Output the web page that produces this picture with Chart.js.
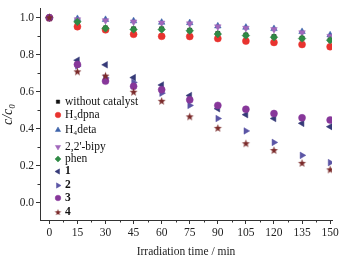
<!DOCTYPE html>
<html><head><meta charset="utf-8">
<script src="https://cdn.jsdelivr.net/npm/chart.js@4.4.1/dist/chart.umd.min.js"></script>
<style>html,body{margin:0;padding:0;background:#fff}#wrap{width:348px;height:259px}</style>
</head><body><div id="wrap"><canvas id="c"></canvas></div>
<script>
const times = [0,15,30,45,60,75,90,105,120,135,150];
const xTicks = [0,15,30,45,60,75,90,105,120,135,150];
const yTicks = [0.0,0.2,0.4,0.6,0.8,1.0];
const withoutCatalyst = [1,0.975,0.945,0.94,0.94,0.932,0.915,0.907,0.898,0.89,0.88];
const H3dpna = [1,0.952,0.935,0.911,0.900,0.899,0.888,0.874,0.867,0.856,0.844];
const H4deta = [1,0.995,0.99,0.983,0.975,0.973,0.955,0.948,0.941,0.925,0.907];
const bipy = [1,0.99,0.985,0.978,0.972,0.968,0.952,0.944,0.937,0.92,0.90];
const phen = [1,0.978,0.943,0.937,0.937,0.93,0.912,0.904,0.895,0.888,0.879];
const c1 = [1,0.771,0.746,0.677,0.637,0.580,0.509,0.477,0.456,0.430,0.412];
const c2 = [1,0.740,0.675,0.651,0.593,0.527,0.456,0.389,0.327,0.257,0.218];
const c3 = [1,0.748,0.658,0.630,0.612,0.557,0.527,0.506,0.483,0.460,0.448];
const c4 = [1,0.708,0.685,0.598,0.549,0.465,0.403,0.320,0.283,0.214,0.179];

function starCanvas(color, r){
  const s = Math.ceil(r*2+2); const cv = document.createElement('canvas');
  cv.width = s; cv.height = s; const g = cv.getContext('2d');
  g.fillStyle = color; g.beginPath();
  for(let i=0;i<10;i++){
    const a = -Math.PI/2 + i*Math.PI/5; const rr = i%2===0? r : r*0.42;
    g.lineTo(s/2 + rr*Math.cos(a), s/2 + rr*Math.sin(a));
  }
  g.closePath(); g.fill(); return cv;
}
const star = starCanvas('#7b2b2b', 4.2);
const starSmall = starCanvas('#7b2b2b', 3.4);

const series = [
  {label:'without catalyst', data:withoutCatalyst, color:'#111111', style:'rect', r:3, bold:false},
  {label:'H₃dpna', data:H3dpna, color:'#e8332f', style:'circle', r:3.5, bold:false},
  {label:'H₄deta', data:H4deta, color:'#3d62aa', style:'triangle', r:3.8, bold:false},
  {label:"2,2'-bipy", data:bipy, color:'#a067bb', style:'triangle', rot:180, r:3.8, bold:false},
  {label:'phen', data:phen, color:'#2f8a45', style:'rectRot', r:3.8, bold:false},
  {label:'1', data:c1, color:'#363a78', style:'triangle', rot:-90, r:3.8, bold:true},
  {label:'2', data:c2, color:'#5b55a5', style:'triangle', rot:90, r:3.8, bold:true},
  {label:'3', data:c3, color:'#87379a', style:'circle', r:3.5, bold:true},
  {label:'4', data:c4, color:'#7b2b2b', style:star, r:4.2, bold:true}
];

const legendY = [101.7,115,130,147,159,171.5,185.5,198,212.5];

const legendPlugin = {
  id:'customLegend',
  afterDraw(chart){
    const ctx = chart.ctx; ctx.save();
    series.forEach((s,i)=>{
      const y = legendY[i];
      if (s.style === star) { ctx.drawImage(starSmall, 58 - starSmall.width/2, y - starSmall.height/2); }
      else {
        ctx.fillStyle = s.color; ctx.strokeStyle = s.color; ctx.lineWidth = 0.5;
        Chart.helpers.drawPoint(ctx, {pointStyle:s.style, radius:s.r*0.8, rotation:s.rot||0, borderWidth:0.5}, 58, y);
      }
      ctx.fillStyle = '#111';
      ctx.font = (s.bold?'bold ':'') + '11.5px "Liberation Serif", serif';
      ctx.textBaseline = 'middle'; ctx.textAlign = 'left';
      ctx.fillText(s.label, 65, y);
    });
    ctx.restore();
  }
};

const minorPlugin = {
  id:'minorTicks',
  afterDraw(chart){
    const ctx = chart.ctx; const xs = chart.scales.x, ys = chart.scales.y;
    ctx.save(); ctx.strokeStyle = '#333'; ctx.lineWidth = 1;
    const ca = chart.chartArea;
    for (let v = 7.5; v <= 150; v += 15){
      const px = Math.round(xs.getPixelForValue(v)) + 0.5;
      ctx.beginPath(); ctx.moveTo(px, ca.bottom); ctx.lineTo(px, ca.bottom + 2.5); ctx.stroke();
    }
    for (let v = -0.1; v <= 1.01; v += 0.2){
      const py = Math.round(ys.getPixelForValue(v)) + 0.5;
      if (py > ca.bottom) continue;
      ctx.beginPath(); ctx.moveTo(ca.left, py); ctx.lineTo(ca.left - 2.5, py); ctx.stroke();
    }
    ctx.restore();
  }
};

new Chart(document.getElementById('c'), {
  type:'scatter',
  data:{ datasets: series.map(s=>({
    label:s.label,
    data: times.map((t,i)=>({x:t, y:s.data[i]})),
    pointStyle:s.style, pointRotation:s.rot||0, pointRadius:s.r,
    backgroundColor:s.color, borderColor:s.color, borderWidth:0.5,
    showLine:false
  })).reverse() },
  options:{
    responsive:true, maintainAspectRatio:false, animation:false,
    layout:{padding:{top:5,right:16,left:0,bottom:0}},
    plugins:{legend:{display:false}, tooltip:{enabled:false}},
    scales:{
      x:{
        type:'linear', min:-5, max:151,
        afterBuildTicks:(s)=>{ s.ticks = xTicks.map(v=>({value:v})); },
        afterFit:(s)=>{ s.height = 39; },
        grid:{drawOnChartArea:false, tickLength:4, color:'#333', tickColor:'#333'},
        border:{color:'#333', width:1},
        ticks:{color:'#222', font:{family:'"Liberation Serif", serif', size:11.5}, padding:2, maxRotation:0, autoSkip:false},
        title:{display:true, text:'Irradiation time / min', color:'#222', font:{family:'"Liberation Serif", serif', size:11.5}, padding:{top:0,bottom:0}}
      },
      y:{
        type:'linear', min:-0.092, max:1.048,
        afterBuildTicks:(s)=>{ s.ticks = yTicks.map(v=>({value:v})); },
        afterFit:(s)=>{ s.width = 40; },
        grid:{drawOnChartArea:false, tickLength:4, color:'#333', tickColor:'#333'},
        border:{color:'#333', width:1},
        ticks:{color:'#222', font:{family:'"Liberation Serif", serif', size:11.5}, padding:2, callback:(v)=>Number(v).toFixed(1)},
        title:{display:true, text:'c/c₀', color:'#222', font:{family:'"Liberation Serif", serif', size:14, style:'italic'}, padding:{top:0,bottom:1}}
      }
    }
  },
  plugins:[legendPlugin, minorPlugin]
});
</script></body></html>
